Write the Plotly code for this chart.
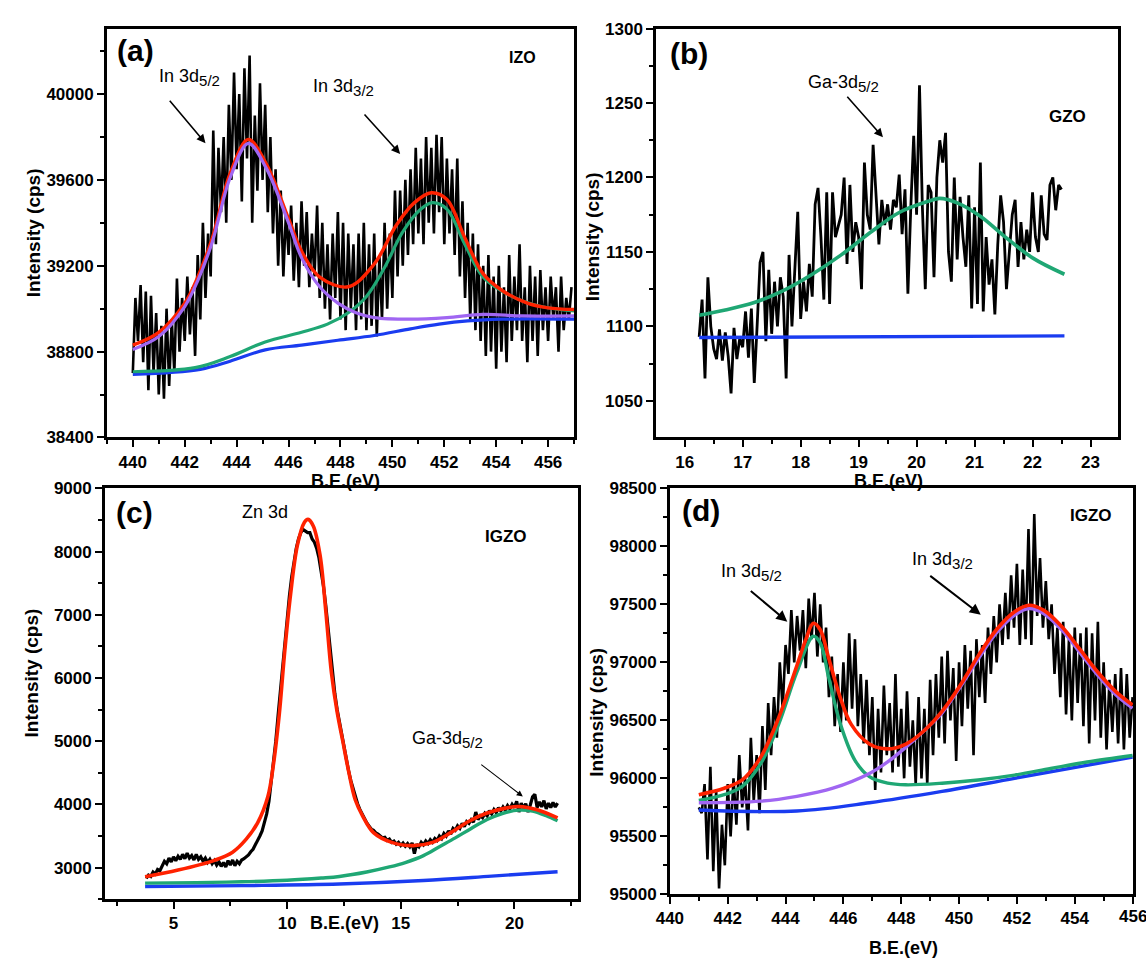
import plotly.graph_objects as go

W, H = 1146, 969

# ---------------- Panel (a) IZO ----------------
a_x0, a_step = 440.0, 0.1
a_data = [
    38700, 39050, 38850, 39110, 38750, 39080, 38620, 39060, 38700, 38980,
    38600, 38920, 38580, 39000, 38640, 38950, 38700, 39140, 38800, 39050,
    38850, 39150, 38880, 39100, 38780, 39250, 38950, 39400, 39050, 39350,
    39150, 39830, 39300, 39750, 39450, 39800, 39400, 39950, 39600, 40100,
    39650, 40000, 39500, 40120, 39700, 40180, 39400, 39900, 39550, 40050,
    39600, 39950, 39450, 39800, 39350, 39650, 39200, 39550, 39150, 39450,
    39250, 39480, 39130, 39400, 39100, 39500, 39200, 39450, 39100, 39350,
    39150, 39480, 39050, 39400, 39000, 39300, 38950, 39350, 39050, 39450,
    38950, 39400, 38900, 39350, 39000, 39300, 38900, 39350, 38950, 39400,
    38900, 39300, 38920, 39350, 38870, 39250, 38950, 39400, 39000, 39350,
    39050, 39550, 39150, 39550, 39200, 39600, 39250, 39650, 39300, 39750,
    39350, 39700, 39300, 39800, 39400, 39750, 39350, 39810, 39450, 39800,
    39300, 39700, 39350, 39650, 39250, 39700, 39150, 39500, 39050, 39400,
    38950, 39350, 38900, 39300, 38850, 39200, 38780, 39250, 38800, 39150,
    38720, 39200, 38800, 39100, 38750, 39250, 38850, 39150, 38900, 39300,
    38850, 39100, 38750, 39200, 38850, 39150, 38780, 39180, 38900, 39100,
    38850, 39150, 38950, 39100, 38800, 39150, 38900, 39050, 38950, 39100,
]
a_red_x = [440.0, 441.0, 442.0, 442.5, 443.06, 443.75, 444.45, 445.14, 446.0, 446.5, 447.2, 448.3,
           449.3, 450.15, 450.85, 451.5, 452.1, 452.8, 453.5, 454.2, 455.2, 456.0, 457.0]
a_red_y = [38830, 38890, 39026, 39147, 39328, 39630, 39789, 39675, 39419, 39268, 39147, 39102,
           39208, 39389, 39494, 39540, 39509, 39328, 39162, 39087, 39026, 39004, 38996]
a_pur_x = [440.0, 441.0, 442.0, 442.5, 443.06, 443.75, 444.45, 445.14, 446.0, 446.5, 447.2, 447.9,
           448.6, 449.3, 450.7, 452.1, 453.5, 455.0, 457.0]
a_pur_y = [38810, 38870, 39010, 39130, 39310, 39610, 39770, 39655, 39400, 39238, 39102, 39026,
           38981, 38958, 38951, 38958, 38973, 38966, 38966]
a_grn_x = [440.0, 442.4, 443.75, 445.1, 446.5, 447.5, 448.3, 449.0, 449.7, 450.4, 451.1, 451.55,
           452.1, 452.8, 453.5, 454.6, 455.7, 457.0]
a_grn_y = [38706, 38725, 38777, 38845, 38890, 38928, 38981, 39057, 39192, 39358, 39464, 39494,
           39464, 39298, 39147, 39057, 39011, 38989]
a_blu_x = [440.0, 442.6, 443.75, 445.1, 446.5, 447.9, 449.3, 450.7, 451.8, 452.9, 454.2, 457.0]
a_blu_y = [38694, 38717, 38755, 38808, 38830, 38853, 38875, 38906, 38928, 38943, 38951, 38951]

# ---------------- Panel (b) GZO ----------------
b_x0, b_step = 16.25, 0.05
b_data = [
    1093, 1118, 1065, 1133, 1100, 1085, 1078, 1098, 1077, 1096,
    1080, 1055, 1099, 1078, 1092, 1086, 1110, 1079, 1112, 1062,
    1101, 1143, 1150, 1090, 1138, 1095, 1130, 1100, 1133, 1120,
    1065, 1148, 1100, 1138, 1177, 1105, 1130, 1110, 1142, 1120,
    1182, 1193, 1160, 1118, 1190, 1115, 1190, 1160, 1168, 1175,
    1200, 1142, 1195, 1150, 1170, 1160, 1125, 1210, 1175, 1165,
    1222, 1185, 1155, 1185, 1168, 1182, 1165, 1185, 1180, 1202,
    1162, 1192, 1122, 1180, 1228, 1175, 1262, 1180, 1125, 1195,
    1190, 1133, 1200, 1225, 1210, 1230, 1150, 1130, 1200, 1145,
    1187, 1160, 1140, 1188, 1112, 1180, 1115, 1210, 1110, 1160,
    1128, 1145, 1108, 1155, 1188, 1170, 1125, 1150, 1175, 1185,
    1140, 1170, 1145, 1165, 1150, 1190, 1160, 1150, 1188, 1162,
    1158, 1195, 1200, 1178, 1195, 1192,
]
b_grn_x = [16.25, 16.7, 17.2, 17.7, 18.2, 18.7, 19.2, 19.7, 20.2, 20.4, 20.7, 21.1, 21.5, 22.0, 22.55]
b_grn_y = [1107.5, 1111, 1116, 1124, 1135, 1148, 1163, 1176.5, 1184, 1186, 1183, 1174, 1161, 1146, 1135]
b_blu_x = [16.25, 22.55]
b_blu_y = [1092.5, 1093.6]

# ---------------- Panel (c) IGZO Zn 3d ----------------
c_x0, c_step = 3.8, 0.1
c_data = [
    2830, 2880, 2860, 2930, 2900, 2970, 2950, 3020, 3100, 3060,
    3150, 3090, 3170, 3110, 3180, 3130, 3210, 3140, 3230, 3150,
    3190, 3120, 3210, 3130, 3170, 3100, 3150, 3080, 3130, 3060,
    3110, 3040, 3090, 3020, 3080, 3010, 3110, 3040, 3120, 3030,
    3100, 3060, 3120, 3140, 3170, 3200, 3250, 3290, 3360, 3420,
    3500, 3580, 3700, 3850, 4050, 4350, 4650, 5000, 5400, 5800,
    6200, 6600, 6950, 7300, 7600, 7850, 8050, 8200, 8300, 8350,
    8330, 8300, 8300, 8200, 8150, 8050, 7900, 7700, 7450, 7150,
    6800, 6400, 6050, 5750, 5500, 5300, 5100, 4900, 4700, 4540,
    4380, 4240, 4120, 4010, 3920, 3840, 3770, 3710, 3660, 3610,
    3590, 3550, 3530, 3500, 3470, 3480, 3430, 3450, 3400, 3420,
    3370, 3400, 3350, 3390, 3340, 3380, 3330, 3390, 3220, 3370,
    3330, 3400, 3360, 3420, 3380, 3440, 3400, 3460, 3430, 3500,
    3460, 3540, 3500, 3580, 3530, 3620, 3590, 3660, 3620, 3700,
    3650, 3730, 3700, 3760, 3720, 3880, 3760, 3820, 3790, 3860,
    3820, 3900, 3850, 3920, 3870, 3950, 3900, 3960, 3910, 3980,
    3930, 4000, 3950, 4050, 3880, 4020, 3940, 4010, 3880, 3990,
    4120, 4160, 3950, 4040, 3960, 4060, 3930, 4020, 3950, 4030,
    3960, 4020,
]
c_red_x = [3.75, 5.2, 6.8, 7.6, 8.2, 8.7, 9.15, 9.4, 9.65, 9.9, 10.15, 10.45, 10.75, 10.92, 11.15,
           11.45, 11.7, 11.95, 12.2, 12.45, 12.7, 13.0, 13.33, 13.8, 14.6, 15.55, 16.4, 17.2, 18.0,
           18.8, 19.6, 20.2, 21.0, 21.9]
c_red_y = [2856, 2960, 3115, 3244, 3450, 3708, 4121, 4638, 5412, 6445, 7322, 8097, 8458, 8510, 8406,
           7942, 7064, 6083, 5464, 4999, 4534, 4070, 3812, 3553, 3399, 3347, 3399, 3553, 3734,
           3863, 3941, 3967, 3915, 3786]
c_grn_x = [3.75, 6.0, 8.0, 10.0, 11.5, 12.3, 13.5, 14.5, 15.2, 16.0, 16.7, 17.4, 18.1, 18.8, 19.5,
           20.2, 20.8, 21.4, 21.9]
c_grn_y = [2755, 2762, 2775, 2800, 2835, 2860, 2930, 3010, 3080, 3190, 3330, 3470, 3620, 3760, 3860,
           3910, 3895, 3820, 3740]
c_blu_x = [3.75, 8.0, 12.3, 16.0, 19.0, 21.9]
c_blu_y = [2700, 2715, 2740, 2795, 2865, 2935]

# ---------------- Panel (d) IGZO In 3d ----------------
d_x0, d_step = 441.0, 0.1
d_data = [
    95750, 95700, 95950, 95300, 96100, 95200, 95900, 95050, 95600, 95250,
    95950, 95500, 96000, 95600, 96200, 95750, 96000, 95550, 96350, 95800,
    96200, 95700, 96450, 95900, 96650, 96200, 96700, 96350, 97000, 96600,
    97150, 96900, 97450, 97000, 97400, 97100, 97450, 96950, 97550, 97200,
    97600, 97050, 97500, 97000, 97300, 96700, 97050, 96450, 96900, 96400,
    97000, 96500, 97250, 96600, 97200, 96450, 96900, 96300, 96850, 96200,
    96700, 95900, 96600, 96050, 96800, 96200, 96650, 96050, 96900, 96100,
    96600, 96000, 96750, 96100, 96500, 95950, 96700, 96000, 96600, 95950,
    96850, 96200, 96900, 96350, 97050, 96300, 97100, 96500, 96950, 96150,
    97000, 96450, 97150, 96600, 97100, 96200, 97200, 96700, 97150, 96650,
    97300, 96900, 97400, 97000, 97500, 97150, 97600, 97200, 97750, 97300,
    97850, 97150, 97800, 97200, 98150, 97150, 98280, 97400, 97900, 97300,
    97700, 97200, 97500, 96900, 97300, 96700, 97350, 96550, 97200, 96500,
    97300, 96650, 97250, 96450, 97300, 96300, 97250, 96500, 97350, 96350,
    97000, 96250, 96850, 96400, 96900, 96300, 96950, 96250, 96900, 96350,
    96700,
]
d_red_x = [441.0, 441.88, 442.5, 443.14, 443.76, 444.39, 444.7, 444.96, 445.2, 445.5, 445.9, 446.27,
           446.9, 447.53, 448.16, 448.78, 449.41, 450.04, 450.66, 451.29, 451.92, 452.42, 452.92,
           453.55, 454.18, 454.8, 455.43, 456.0]
d_red_y = [95859, 95915, 95986, 96183, 96521, 96971, 97196, 97337, 97281, 97028, 96690, 96465,
           96296, 96254, 96296, 96408, 96577, 96802, 97056, 97281, 97436, 97492, 97450,
           97309, 97112, 96915, 96746, 96633]
d_grn_x = [441.0, 441.88, 442.5, 443.14, 443.76, 444.39, 444.96, 445.2, 445.5, 445.9, 446.4, 446.9,
           447.53, 448.16, 449.41, 450.66, 451.92, 453.17, 454.43, 456.0]
d_grn_y = [95809, 95859, 95930, 96127, 96465, 96915, 97225, 97168, 96859, 96465, 96155, 96014,
           95958, 95944, 95958, 95986, 96028, 96085, 96141, 96197]
d_pur_x = [441.0, 443.14, 444.39, 445.64, 446.9, 447.53, 448.16, 448.78, 449.41, 450.04, 450.66,
           451.29, 451.92, 452.42, 452.92, 453.55, 454.18, 454.8, 455.43, 456.0]
d_pur_y = [95789, 95803, 95845, 95915, 96042, 96141, 96268, 96408, 96563, 96788, 97028,
           97253, 97408, 97464, 97422, 97281, 97084, 96887, 96718, 96605]
d_blu_x = [441.0, 444.39, 446.9, 449.41, 451.92, 456.0]
d_blu_y = [95727, 95718, 95789, 95887, 96000, 96183]

# ---------------- styling ----------------
BLACK = "#000000"
RED = "#ff2200"
GREEN = "#1fa774"
PURPLE = "#a066f2"
BLUE = "#1a3cf0"
FONT = "Liberation Sans, Arial, sans-serif"


def grid(x0, step, vals):
    return [round(x0 + step * i, 3) for i in range(len(vals))]


fig = go.Figure()


def add_line(x, y, color, width, n, spline=False):
    fig.add_trace(go.Scatter(
        x=x, y=y, mode="lines", xaxis="x" + n, yaxis="y" + n, showlegend=False,
        line=dict(color=color, width=width, shape="spline" if spline else "linear",
                  smoothing=1.0 if spline else None),
        hoverinfo="skip"))


# (a)
add_line(grid(a_x0, a_step, a_data), a_data, BLACK, 2.6, "")
add_line(a_blu_x, a_blu_y, BLUE, 3.2, "", True)
add_line(a_grn_x, a_grn_y, GREEN, 3.2, "", True)
add_line(a_red_x, a_red_y, RED, 3.4, "", True)
add_line(a_pur_x, a_pur_y, PURPLE, 3.2, "", True)
# (b)
add_line(grid(b_x0, b_step, b_data), b_data, BLACK, 2.8, "2")
add_line(b_blu_x, b_blu_y, BLUE, 3.4, "2")
add_line(b_grn_x, b_grn_y, GREEN, 3.6, "2", True)
# (c)
add_line(grid(c_x0, c_step, c_data), c_data, BLACK, 3.2, "3")
add_line(c_blu_x, c_blu_y, BLUE, 3.4, "3", True)
add_line(c_grn_x, c_grn_y, GREEN, 3.4, "3", True)
add_line(c_red_x, c_red_y, RED, 3.6, "3", True)
# (d)
add_line(grid(d_x0, d_step, d_data), d_data, BLACK, 2.6, "4")
add_line(d_blu_x, d_blu_y, BLUE, 3.4, "4", True)
add_line(d_grn_x, d_grn_y, GREEN, 3.4, "4", True)
add_line(d_pur_x, d_pur_y, PURPLE, 3.4, "4", True)
add_line(d_red_x, d_red_y, RED, 3.6, "4", True)


def px_x(p):
    return p / W


def px_y(p):
    return 1 - p / H


def axis(dom, rng, dtick, minor, tick0=None, fsize=17):
    d = dict(domain=dom, range=rng, dtick=dtick, showgrid=False, zeroline=False,
             showline=True, linecolor="black", linewidth=2.5, mirror=True,
             ticks="outside", ticklen=7, tickwidth=2, tickcolor="black",
             tickformat="d",
             tickfont=dict(family=FONT, size=fsize, color="black", weight="bold"),
             minor=dict(dtick=minor, ticks="outside", ticklen=4, tickwidth=2, tickcolor="black",
                        showgrid=False),
             fixedrange=True)
    if tick0 is not None:
        d["tick0"] = tick0
        d["minor"]["tick0"] = tick0
    return d


layout = dict(
    width=W, height=H, margin=dict(l=0, r=0, t=0, b=0),
    paper_bgcolor="white", plot_bgcolor="white", showlegend=False,
    font=dict(family=FONT, color="black"),
)
# (a)
layout["xaxis"] = axis([px_x(94), px_x(567)], [439.0, 457.0], 2, 1, tick0=440)
layout["yaxis"] = axis([px_y(437), px_y(20)], [38400, 40305], 400, 200, tick0=38400)
layout["xaxis"]["anchor"] = "y"
layout["yaxis"]["anchor"] = "x"
# (b)
layout["xaxis2"] = axis([px_x(650), px_x(1118)], [15.506, 23.48], 1, 0.5, tick0=16)
layout["yaxis2"] = axis([px_y(437), px_y(20)], [1025.4, 1300], 50, 25, tick0=1050)
layout["xaxis2"]["anchor"] = "y2"
layout["yaxis2"]["anchor"] = "x2"
# (c)
layout["xaxis3"] = axis([px_x(92), px_x(571)], [1.98, 22.8], 5, 2.5, tick0=0)
layout["yaxis3"] = axis([px_y(908), px_y(489)], [2500, 9000], 1000, 500, tick0=3000)
layout["xaxis3"]["anchor"] = "y3"
layout["yaxis3"]["anchor"] = "x3"
# (d)
layout["xaxis4"] = axis([px_x(664), px_x(1133)], [440, 456.02], 2, 1, tick0=440)
layout["yaxis4"] = axis([px_y(903), px_y(489)], [95000, 98500], 500, 250, tick0=95000)
layout["xaxis4"]["anchor"] = "y4"
layout["yaxis4"]["anchor"] = "x4"
fig.update_layout(**layout)

ann = []


def sub(main, s):
    return main + "<sub><span style='font-size:15px'>" + s + "</span></sub>"


def text(n, x, y, s, size=18, bold=False, xanchor="center"):
    ann.append(dict(xref="x" + n, yref="y" + n, x=x, y=y, text=s, showarrow=False,
                    xanchor=xanchor, yanchor="middle",
                    font=dict(family=FONT, size=size, color="black",
                              weight="bold" if bold else "normal")))


def arrow(n, x, y, ax, ay, width=1.6):
    ann.append(dict(xref="x" + n, yref="y" + n, x=x, y=y, ax=ax, ay=ay, text="",
                    showarrow=True, arrowhead=2, arrowsize=1.1, arrowwidth=width,
                    arrowcolor="black"))


def ptext(px, py, s, size, angle=0, bold=True):
    ann.append(dict(xref="paper", yref="paper", x=px_x(px), y=px_y(py), text=s,
                    showarrow=False, textangle=angle, xanchor="center", yanchor="middle",
                    font=dict(family=FONT, size=size, color="black",
                              weight="bold" if bold else "normal")))


# (a) annotations
text("", 440.1, 40205, "(a)", size=30, bold=True)
text("", 455.0, 40169, "IZO", size=16, bold=True)
text("", 442.2, 40075, sub("In 3d", "5/2"), size=18)
text("", 448.1, 40030, sub("In 3d", "3/2"), size=18)
arrow("", 442.8, 39771, -37, -44)
arrow("", 450.3, 39721, -37, -41)
# (b)
text("2", 16.07, 1283, "(b)", size=30, bold=True)
text("2", 22.61, 1241, "GZO", size=17, bold=True)
text("2", 18.74, 1263, sub("Ga-3d", "5/2"), size=18)
arrow("2", 19.42, 1227, -37, -42)
# (c)
text("3", 3.28, 8620, "(c)", size=30, bold=True)
text("3", 9.02, 8620, "Zn 3d", size=18)
text("3", 19.63, 8245, "IGZO", size=17, bold=True)
text("3", 17.07, 5026, sub("Ga-3d", "5/2"), size=18)
arrow("3", 20.37, 4125, -43, -33, width=1.1)
# (d)
text("4", 441.09, 98306, "(d)", size=30, bold=True)
text("4", 454.57, 98264, "IGZO", size=17, bold=True)
text("4", 442.83, 97774, sub("In 3d", "5/2"), size=18)
text("4", 449.42, 97875, sub("In 3d", "3/2"), size=18)
arrow("4", 444.06, 97351, -38, -32, width=2)
arrow("4", 450.75, 97411, -52, -40, width=2)
# last tick label of (d), which runs off the page edge in the reference
ann.append(dict(xref="x4", yref="paper", x=456, y=px_y(926), text="456", showarrow=False,
                xanchor="center", yanchor="middle",
                font=dict(family=FONT, size=17, color="black", weight="bold")))

# axis titles
ptext(20, 228, "Intensity (cps)", 19, angle=-90)
ptext(586, 232, "Intensity (cps)", 19, angle=-90)
ptext(18, 677, "Intensity (cps)", 19, angle=-90)
ptext(590, 717, "Intensity (cps)", 19, angle=-90)
ptext(336, 481, "B.E.(eV)", 18)
ptext(885, 481, "B.E.(eV)", 18)
ptext(335, 932, "B.E.(eV)", 18)
ptext(900, 958, "B.E.(eV)", 18)

fig.update_layout(annotations=ann)
fig.write_html("out.html", config={"displayModeBar": False},
               post_script="document.body.style.margin='0';document.body.style.overflow='hidden';")
